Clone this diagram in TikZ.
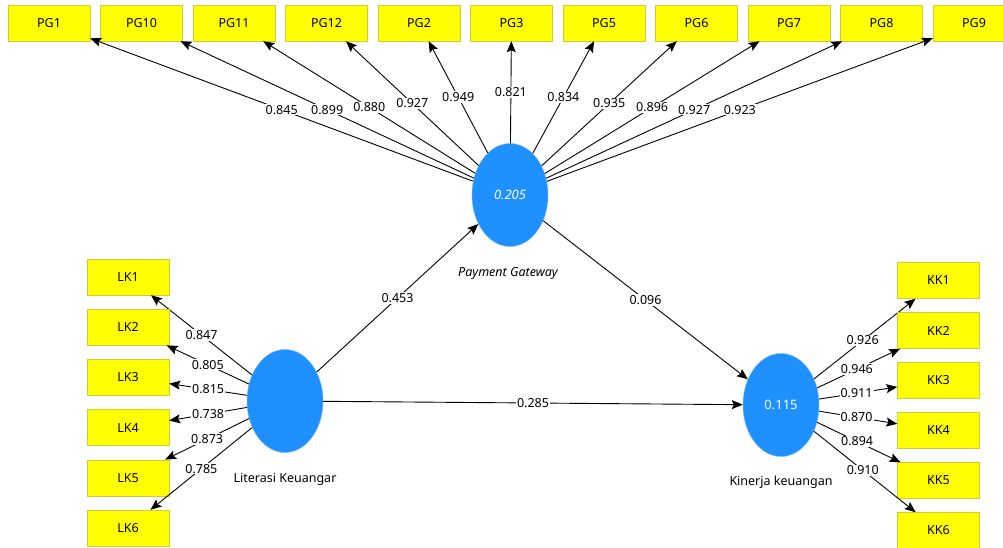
\documentclass[tikz,border=0pt]{standalone}
\usepackage{fontspec}
\setmainfont{Noto Sans}
\usetikzlibrary{arrows.meta, shapes.geometric}
\definecolor{lvblue}{RGB}{30,144,255}
\definecolor{lvedge}{RGB}{110,180,250}
\definecolor{indyellow}{RGB}{255,255,0}
\definecolor{indedge}{RGB}{205,205,60}

\tikzset{
  indicator/.style={draw=indedge, fill=indyellow, minimum width=82pt, minimum height=36pt, inner sep=0pt, font=\fontsize{12.5}{14}\selectfont},
  latent/.style={ellipse, draw=lvedge, fill=lvblue, minimum width=76pt, minimum height=103pt, inner sep=0pt, text=white, font=\fontsize{13}{15}\selectfont},
  loading/.style={-{Stealth[length=11pt, width=9pt, inset=2pt]}, line width=0.9pt},
  coef/.style={fill=white, inner sep=1pt, pos=0.5, font=\fontsize{12.5}{14}\selectfont},
  lvname/.style={font=\fontsize{12.5}{14}\selectfont}
}

\begin{document}
\begin{tikzpicture}[x=1pt, y=-1pt]
        \useasboundingbox (0,0) rectangle (1003,548);

        % Latent variables
        \node[latent] (pg) at (510,195) {\itshape 0.205};
        \node[lvname] (pgname) at (508,273) {\itshape Payment Gateway};
        \node[latent] (lk) at (285,401) {};
        \node[lvname] (lkname) at (285,479) {Literasi Keuangar};
        \node[latent] (kk) at (781,405) {0.115};
        \node[lvname] (kkname) at (781,482) {Kinerja keuangan};

        % Payment Gateway indicators
        \foreach \name [count=\i] in {PG1,PG10,PG11,PG12,PG2,PG3,PG5,PG6,PG7,PG8,PG9}
            \node[indicator] (pg\i) at ({49+92.5*(\i-1)},23) {\name};
        \foreach \val [count=\i] in {0.845,0.899,0.880,0.927,0.949,0.821,0.834,0.935,0.896,0.927,0.923}
            \draw[loading] (pg) -- node[coef] (cpg\i) {\val} (pg\i);

        % Literasi Keuangan indicators
        \foreach \val [count=\i] in {0.847,0.805,0.815,0.738,0.873,0.785} {
            \node[indicator] (lk\i) at (128,{277+50.2*(\i-1)}) {LK\i};
            \draw[loading] (lk) -- node[coef] (clk\i) {\val} (lk\i);
        }

        % Kinerja keuangan indicators
        \foreach \val [count=\i] in {0.926,0.946,0.911,0.870,0.894,0.910} {
            \node[indicator] (kk\i) at (938.5,{280.5+50*(\i-1)}) {KK\i};
            \draw[loading] (kk) -- node[coef, pos=0.48] (ckk\i) {\val} (kk\i);
        }

        % Paths
        \draw[loading] (lk) -- node[coef] (clkpg) {0.453} (pg);
        \draw[loading] (pg) -- node[coef] (cpgkk) {0.096} (kk);
        \draw[loading] (lk) -- node[coef] (clkkk) {0.285} (kk);
    \end{tikzpicture}
\end{document}
